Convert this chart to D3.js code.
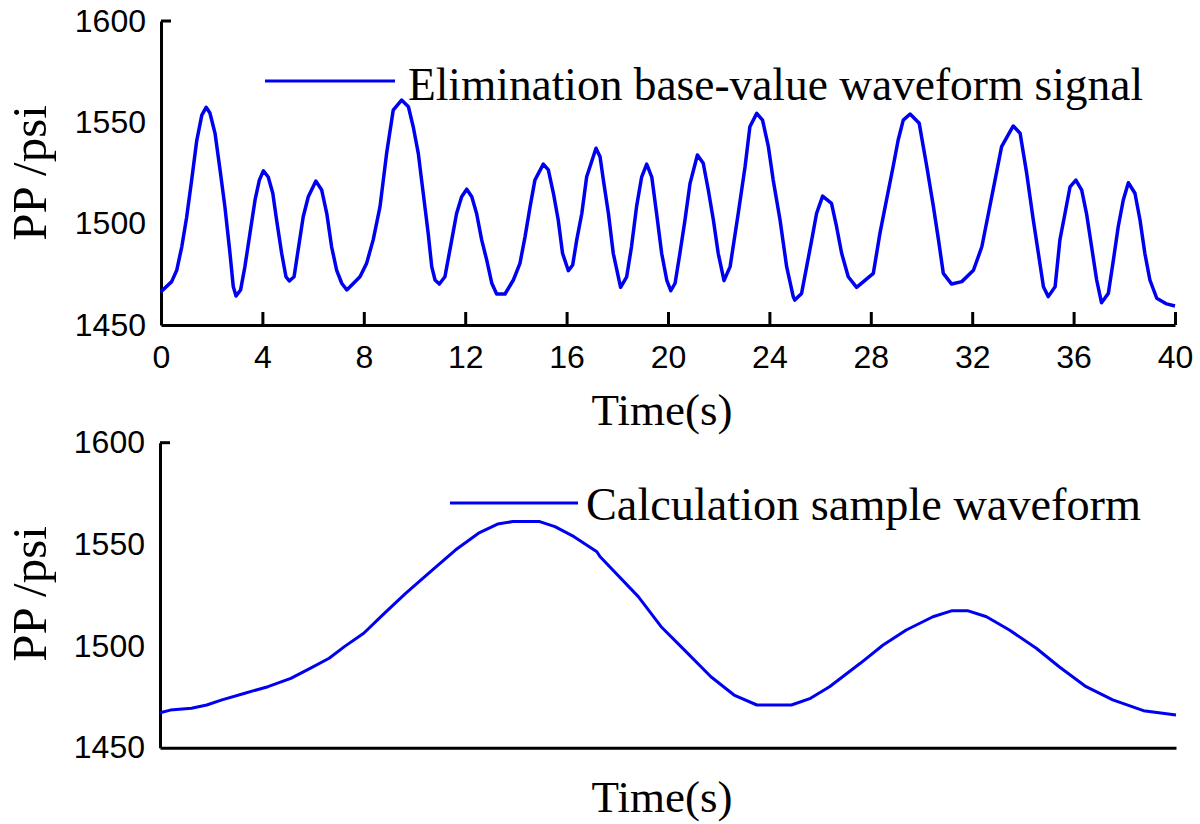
<!DOCTYPE html>
<html>
<head>
<meta charset="utf-8">
<script src="https://cdn.jsdelivr.net/npm/d3@7"></script>
<style>
  html, body { margin: 0; padding: 0; background: #fff; }
  svg { display: block; }
  .tick text { font-family: "Liberation Sans", Arial, sans-serif; font-size: 32px; fill: #000; }
</style>
</head>
<body>
<svg id="chart" width="1200" height="824"></svg>
<script>
// ---- Data ----
const yTicks = [1450, 1500, 1550, 1600];
const xTicks = [0, 4, 8, 12, 16, 20, 24, 28, 32, 36, 40];

// Top panel: elimination base-value waveform signal (time s, pressure psi)
const topTime = [0,0.42,0.62,0.82,1.01,1.21,1.41,1.61,1.78,1.93,2.13,2.33,2.52,2.72,2.85,2.96,3.14,3.31,3.51,3.71,3.88,4.04,4.23,4.41,4.56,4.76,4.93,5.06,5.25,5.39,5.61,5.81,6.11,6.34,6.54,6.73,6.93,7.13,7.33,7.85,8.11,8.37,8.64,8.9,9.16,9.49,9.76,9.95,10.15,10.28,10.41,10.54,10.68,10.81,10.98,11.2,11.47,11.66,11.86,12.06,12.26,12.45,12.65,12.85,13.05,13.24,13.57,13.9,14.16,14.36,14.56,14.75,15.08,15.28,15.48,15.67,15.84,16.07,16.24,16.4,16.6,16.79,17.16,17.32,17.45,17.65,17.84,18.13,18.37,18.56,18.76,18.96,19.16,19.36,19.55,19.75,19.95,20.11,20.28,20.47,20.67,20.87,21.16,21.39,21.59,21.79,21.98,22.21,22.45,22.77,23.04,23.23,23.5,23.73,23.96,24.15,24.42,24.68,24.94,25.0,25.27,25.47,25.67,25.86,26.1,26.45,26.65,26.85,27.11,27.44,28.1,28.36,28.62,28.88,29.08,29.28,29.55,29.91,30.21,30.47,30.67,30.86,31.19,31.59,32.05,32.38,32.64,32.9,33.16,33.62,33.89,34.15,34.41,34.61,34.81,35.0,35.27,35.46,35.66,35.86,36.09,36.32,36.51,36.71,36.91,37.1,37.37,37.57,37.76,37.96,38.16,38.42,38.62,38.81,39.01,39.28,39.67,40];
const topValue = [1466.4,1471.4,1477,1488.6,1503,1521.5,1541,1553.6,1557.4,1554.6,1544.7,1526.5,1508.4,1485.5,1469,1464.3,1467.3,1478.8,1495.3,1511.7,1521.5,1526.1,1523,1515,1501.8,1485.4,1473.8,1471.7,1473.8,1485.4,1503.4,1513.3,1521,1516.6,1505,1488.6,1477,1470.6,1467.3,1473.8,1480.4,1492,1508.4,1534.7,1556,1561,1557.7,1547.8,1534.7,1521.5,1508.4,1495.2,1478.8,1472.2,1470.2,1473.8,1492,1505,1513.3,1517,1513.3,1505,1492,1482,1470.6,1465.3,1465.3,1472.2,1480.4,1493.5,1508.4,1521.5,1529.4,1526.5,1515,1501.8,1485.4,1476.8,1479.6,1492,1505,1523,1537.2,1533,1521.5,1505,1485.4,1468.6,1473.8,1488.6,1508.4,1523,1529.4,1523,1505,1485.4,1472.2,1466.9,1470.6,1485.4,1501.8,1519.9,1533.9,1529.8,1516.6,1501.8,1485.4,1471.9,1478.8,1505,1528.1,1547.8,1554.4,1551.1,1538,1521.5,1501.8,1478.8,1464,1462.3,1465.6,1478.8,1492,1505,1513.6,1510,1498.5,1485.4,1473.8,1468.6,1475.5,1495.2,1511.7,1528.1,1541.3,1551.1,1554.1,1549.5,1528.1,1508.4,1492,1475.5,1470.2,1471.4,1477,1488.6,1505,1521.5,1538,1548.2,1544.6,1524.8,1501.8,1485.4,1468.9,1464,1468.9,1492,1505,1518.2,1521.5,1516.6,1505,1488.6,1472.2,1461,1465.6,1482.1,1498.5,1511.7,1520.2,1515,1501.8,1485.4,1472.2,1463.2,1460.4,1459.4];

// Bottom panel: calculation sample waveform (same time span, no tick labels)
const botTime = [0,0.41,1.24,1.84,2.44,3.34,4.25,5.15,5.91,6.66,7.26,8.02,8.77,9.67,10.73,11.63,12.54,13.29,13.89,14.95,15.55,16.3,17.2,17.32,18.83,19.73,20.64,21.69,22.6,23.5,24.86,25.61,26.36,27.57,28.47,29.38,30.43,31.19,31.79,32.54,33.44,34.5,35.4,36.46,37.51,38.72,40];
const botValue = [1467.2,1468.5,1469.4,1471,1473.5,1476.8,1480,1484.1,1489,1494,1499.7,1506.3,1515.3,1525.9,1537.4,1547.2,1555.5,1560,1561.2,1561.2,1558.7,1553.8,1546.4,1544,1524.3,1509.5,1498.1,1484.9,1475.9,1471,1471,1474.3,1480,1491.5,1500.5,1507.9,1514.4,1517.4,1517.4,1514.4,1507.9,1498.9,1489.8,1480,1473.5,1468.2,1466.1];

const seriesNames = ["Elimination base-value waveform signal", "Calculation sample waveform"];
const axisLabelX = "Time(s)";
const axisLabelY = "PP /psi";

// ---- Drawing ----
const svg = d3.select("#chart");
const lineColor = "#0000f0";
const serif = '"Liberation Serif", "Times New Roman", serif';

function panel(cfg) {
  const x = d3.scaleLinear().domain([0, 40]).range([cfg.x0, cfg.x1]);
  const y = d3.scaleLinear().domain([1450, 1600]).range([cfg.yBottom, cfg.yTop]);
  const g = svg.append("g");

  // y axis
  const ya = g.append("g").attr("transform", `translate(${cfg.x0},0)`)
    .call(d3.axisLeft(y).tickValues(yTicks).tickSize(0).tickPadding(15).tickFormat(d3.format("d")));
  ya.select(".domain").attr("stroke", "#000").attr("stroke-width", 3);
  ya.selectAll(".tick text").attr("font-family", '"Liberation Sans", Arial, sans-serif').attr("font-size", 32);
  // small inward tick at the top of the y axis
  g.append("line").attr("x1", cfg.x0).attr("x2", cfg.x0 + 10)
    .attr("y1", y(1600)).attr("y2", y(1600)).attr("stroke", "#000").attr("stroke-width", 3);

  // x axis
  const xAxis = d3.axisBottom(x).tickSizeOuter(0);
  if (cfg.xTickLabels) {
    xAxis.tickValues(xTicks).tickSizeInner(-13).tickPadding(20).tickFormat(d3.format("d"));
  } else {
    xAxis.tickValues([]).tickSizeInner(0);
  }
  const xa = g.append("g").attr("transform", `translate(0,${cfg.yBottom})`).call(xAxis);
  xa.select(".domain").attr("stroke", "#000").attr("stroke-width", 3);
  xa.selectAll(".tick line").attr("stroke", "#000").attr("stroke-width", 3);
  xa.selectAll(".tick text").attr("font-family", '"Liberation Sans", Arial, sans-serif').attr("font-size", 32);

  // data line
  const pts = cfg.time.map((t, i) => [t, cfg.value[i]]);
  g.append("path").datum(pts)
    .attr("fill", "none").attr("stroke", lineColor).attr("stroke-width", cfg.lw)
    .attr("stroke-linejoin", "round")
    .attr("d", d3.line().x(d => x(d[0])).y(d => y(d[1])));

  // legend
  g.append("line").attr("x1", cfg.legX0).attr("x2", cfg.legX1)
    .attr("y1", cfg.legY).attr("y2", cfg.legY)
    .attr("stroke", lineColor).attr("stroke-width", 3);
  g.append("text").attr("x", cfg.legTextX).attr("y", cfg.legTextY)
    .attr("font-family", serif).attr("font-size", 46)
    .attr("textLength", cfg.legTextW).attr("lengthAdjust", "spacingAndGlyphs")
    .text(cfg.name);

  // axis titles
  g.append("text").attr("x", 662).attr("y", cfg.xLabelY)
    .attr("text-anchor", "middle").attr("font-family", serif).attr("font-size", 45)
    .text(axisLabelX);
  g.append("text")
    .attr("transform", `translate(46,${cfg.yLabelC}) rotate(-90)`)
    .attr("text-anchor", "middle").attr("font-family", serif).attr("font-size", 49)
    .text(axisLabelY);
}

panel({
  x0: 161, x1: 1175, yTop: 21, yBottom: 325,
  time: topTime, value: topValue, lw: 3.5, xTickLabels: true,
  name: seriesNames[0],
  legX0: 265, legX1: 395, legY: 81, legTextX: 408, legTextY: 100, legTextW: 735,
  xLabelY: 425, yLabelC: 173
});

panel({
  x0: 160, x1: 1176, yTop: 442.7, yBottom: 747.7,
  time: botTime, value: botValue, lw: 3, xTickLabels: false,
  name: seriesNames[1],
  legX0: 450, legX1: 578, legY: 503, legTextX: 586, legTextY: 520, legTextW: 555,
  xLabelY: 812, yLabelC: 594
});
</script>
</body>
</html>
